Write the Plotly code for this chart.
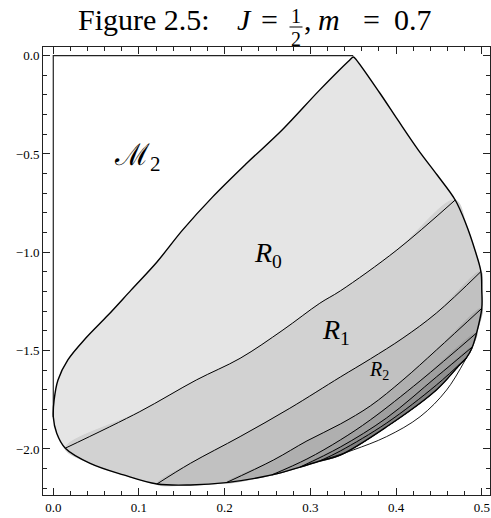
import numpy as np
import plotly.graph_objects as go

# ---------------- data ----------------
# outer boundary of the shaded region, counter-clockwise from the apex
bnd_x = [0.350, 0.346, 0.311, 0.267, 0.226, 0.186, 0.151, 0.121, 0.091, 0.064, 0.038,
         0.017, 0.0055, 0.001, 0.000, 0.004, 0.014, 0.043, 0.082, 0.121, 0.160, 0.202,
         0.255, 0.288, 0.311, 0.335, 0.389, 0.447, 0.474, 0.482, 0.489, 0.494, 0.500,
         0.500, 0.499, 0.492, 0.482, 0.469, 0.448, 0.426, 0.402, 0.381, 0.352]
bnd_y = [-0.007, -0.022, -0.174, -0.378, -0.546, -0.718, -0.886, -1.049, -1.191, -1.319, -1.436,
         -1.547, -1.649, -1.751, -1.837, -1.920, -1.996, -2.073, -2.132, -2.178, -2.183, -2.171,
         -2.132, -2.092, -2.061, -2.031, -1.887, -1.700, -1.573, -1.537, -1.481, -1.410, -1.285,
         -1.191, -1.098, -0.988, -0.861, -0.734, -0.607, -0.480, -0.327, -0.190, -0.013]

# curves separating the regions R0 | R1 | R2 | ...
sep1_x = [0.014, 0.101, 0.167, 0.218, 0.268, 0.311, 0.335, 0.401, 0.469]
sep1_y = [-1.996, -1.810, -1.649, -1.539, -1.395, -1.259, -1.196, -0.988, -0.734]
sep2_x = [0.121, 0.160, 0.218, 0.276, 0.335, 0.370, 0.408, 0.447, 0.499]
sep2_y = [-2.178, -2.073, -1.937, -1.793, -1.634, -1.542, -1.436, -1.309, -1.098]
sep3_x = [0.202, 0.257, 0.296, 0.335, 0.370, 0.408, 0.447, 0.500]
sep3_y = [-2.171, -2.056, -1.959, -1.873, -1.781, -1.649, -1.497, -1.285]
sep4_x = [0.255, 0.296, 0.335, 0.370, 0.428, 0.494]
sep4_y = [-2.132, -2.051, -1.954, -1.852, -1.654, -1.410]
sep5_x = [0.288, 0.335, 0.389, 0.447, 0.489]
sep5_y = [-2.092, -1.990, -1.842, -1.634, -1.481]
sep6_x = [0.311, 0.335, 0.389, 0.447, 0.482]
sep6_y = [-2.061, -2.010, -1.868, -1.675, -1.537]

# thin outer arc in the lower right (unshaded)
arc_x = [0.482, 0.459, 0.428, 0.389, 0.350, 0.318]
arc_y = [-1.537, -1.700, -1.836, -1.937, -2.005, -2.052]

# edges of region M2 (the axes x=0 and y=0)
m2_x = [0.000, 0.000, 0.350]
m2_y = [-1.837, 0.000, 0.000]

band_colors = ["#e5e5e5", "#d2d2d2", "#c1c1c1", "#afafaf", "#9f9f9f", "#8f8f8f", "#808080"]

labels = ["ℳ<sub>2</sub>", "<i>R</i><sub>0</sub>", "<i>R</i><sub>1</sub>", "<i>R</i><sub>2</sub>"]
label_x = [0.098, 0.250, 0.330, 0.380]
label_y = [-0.515, -1.012, -1.405, -1.603]
label_size = [30, 28, 28, 20]

x_ticks = [0.0, 0.1, 0.2, 0.3, 0.4, 0.5]
x_ticktext = ["0.0", "0.1", "0.2", "0.3", "0.4", "0.5"]
y_ticks = [0.0, -0.5, -1.0, -1.5, -2.0]
y_ticktext = ["0.0", "−0.5", "−1.0", "−1.5", "−2.0"]

# ---------------- figure ----------------
FONT = "Liberation Serif, Times New Roman, serif"
W, H = 491, 518
ML, MR, MT, MB = 43, 1, 47, 23

bx = np.array(bnd_x)
by = np.array(bnd_y)
seps = [(sep1_x, sep1_y), (sep2_x, sep2_y), (sep3_x, sep3_y),
        (sep4_x, sep4_y), (sep5_x, sep5_y), (sep6_x, sep6_y)]


def nearest(x, y):
    return int(np.argmin((bx - x) ** 2 + (by - y) ** 2))


fig = go.Figure()
SM = 1.0

# whole region (R0 colour)
fig.add_trace(go.Scatter(x=list(bnd_x) + [bnd_x[0]], y=list(bnd_y) + [bnd_y[0]],
                         mode="lines", line=dict(width=0, shape="spline", smoothing=SM),
                         fill="toself", fillcolor=band_colors[0], hoverinfo="skip"))

# successive regions below each separating curve
for k, (sx, sy) in enumerate(seps):
    i = nearest(sx[0], sy[0])
    j = nearest(sx[-1], sy[-1])
    px = list(bnd_x[i:j + 1]) + list(sx[::-1][1:])
    py = list(bnd_y[i:j + 1]) + list(sy[::-1][1:])
    fig.add_trace(go.Scatter(x=px, y=py, mode="lines",
                             line=dict(width=1, color=band_colors[k + 1],
                                       shape="spline", smoothing=SM),
                             fill="toself", fillcolor=band_colors[k + 1], hoverinfo="skip"))

# M2 edges
fig.add_trace(go.Scatter(x=m2_x, y=m2_y, mode="lines",
                         line=dict(color="#222", width=1.2), hoverinfo="skip"))

# separating curves
for sx, sy in seps:
    fig.add_trace(go.Scatter(x=sx, y=sy, mode="lines",
                             line=dict(color="black", width=1, shape="spline", smoothing=SM),
                             hoverinfo="skip"))

# outline
fig.add_trace(go.Scatter(x=list(bnd_x) + [bnd_x[0]], y=list(bnd_y) + [bnd_y[0]], mode="lines",
                         line=dict(color="black", width=1.4, shape="spline", smoothing=SM),
                         hoverinfo="skip"))
fig.add_trace(go.Scatter(x=arc_x, y=arc_y, mode="lines",
                         line=dict(color="black", width=0.9, shape="spline", smoothing=SM),
                         hoverinfo="skip"))

for t, x, y, s in zip(labels, label_x, label_y, label_size):
    fig.add_annotation(x=x, y=y, text=t, showarrow=False,
                       font=dict(family=FONT, size=s, color="black"))


# title built from pieces (stacked fraction); positions are screen pixels
def paper_xy(px, py):
    return (px - ML) / (W - ML - MR), 1 - (py - MT) / (H - MT - MB)


def title_piece(text, px, py, anchor, size):
    tx, ty = paper_xy(px, py)
    fig.add_annotation(x=tx, y=ty, xref="paper", yref="paper", text=text, showarrow=False,
                       xanchor=anchor, yanchor="middle",
                       font=dict(family=FONT, size=size, color="black"))


TS = 30
TY = 19.5
title_piece("Figure 2.5:", 76, TY, "left", TS)
title_piece("<i>J</i>", 244, TY, "center", TS)
title_piece("=", 269, TY, "center", TS)
title_piece("1", 296, 16.5, "center", 20)
title_piece("2", 296, 39.0, "center", 20)
x0, yb = paper_xy(289.5, 27)
x1, _ = paper_xy(302.5, 27)
fig.add_shape(type="line", xref="paper", yref="paper", x0=x0, x1=x1, y0=yb, y1=yb,
              line=dict(color="black", width=1))
title_piece(",", 302, TY, "left", TS)
title_piece("<i>m</i>", 329, TY, "center", TS)
title_piece("=", 371, TY, "center", TS)
title_piece("0.7", 392, TY, "left", TS)

axis_common = dict(showgrid=False, zeroline=False, showline=True, linecolor="#222", linewidth=1,
                   mirror="allticks", ticks="inside", tickcolor="#222", ticklen=7, tickwidth=1,
                   automargin=False, tickfont=dict(family=FONT, size=13, color="black"))
fig.update_xaxes(range=[-0.012, 0.5096], tickvals=x_ticks, ticktext=x_ticktext,
                 minor=dict(ticks="inside", dtick=0.02, tick0=0, ticklen=4, tickcolor="#222"),
                 **axis_common)
fig.update_yaxes(range=[-2.234, 0.044], tickvals=y_ticks, ticktext=y_ticktext,
                 minor=dict(ticks="inside", dtick=0.1, tick0=0, ticklen=4, tickcolor="#222"),
                 **axis_common)

fig.update_layout(width=W, height=H, margin=dict(l=ML, r=MR, t=MT, b=MB, autoexpand=False),
                  paper_bgcolor="white", plot_bgcolor="white", showlegend=False,
                  font=dict(family=FONT))

# remove the default page margin so the figure fills the window exactly
fig.write_html("out.html", config={"displayModeBar": False, "staticPlot": True},
               post_script="document.body.style.margin='0px';")
